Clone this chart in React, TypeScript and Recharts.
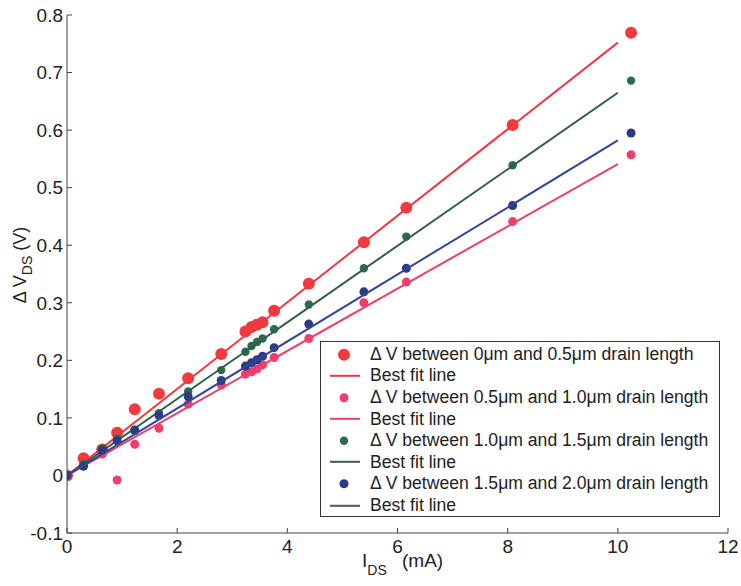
import { ScatterChart, Scatter, XAxis, YAxis } from 'recharts';

// drain current (mA) at each measurement
const IDS = [0, 0.3, 0.64, 0.91, 1.23, 1.67, 2.2, 2.8, 3.24, 3.35, 3.45, 3.55, 3.76, 4.39, 5.39, 6.16, 8.09, 10.24];

// ΔV (V) per drain-length segment
const DV_0_05 = [0, 0.03, 0.045, 0.074, 0.115, 0.142, 0.169, 0.211, 0.25, 0.258, 0.262, 0.266, 0.286, 0.333, 0.405, 0.465, 0.609, 0.769];
const DV_05_10 = [0, 0.018, 0.037, -0.008, 0.054, 0.082, 0.124, 0.157, 0.176, 0.18, 0.185, 0.192, 0.205, 0.238, 0.3, 0.336, 0.441, 0.557];
const DV_10_15 = [0, 0.02, 0.047, 0.064, 0.08, 0.108, 0.146, 0.183, 0.215, 0.225, 0.232, 0.238, 0.254, 0.297, 0.36, 0.415, 0.539, 0.686];
const DV_15_20 = [0, 0.016, 0.044, 0.06, 0.078, 0.104, 0.137, 0.165, 0.19, 0.196, 0.201, 0.207, 0.222, 0.263, 0.319, 0.36, 0.469, 0.595];

// best fit line end points
const FIT_X = [0, 10];
const FIT_0_05 = [0, 0.752];
const FIT_05_10 = [0, 0.541];
const FIT_10_15 = [0, 0.665];
const FIT_15_20 = [0, 0.582];

const X_TICKS = [0, 2, 4, 6, 8, 10, 12];
const Y_TICKS = [-0.1, 0, 0.1, 0.2, 0.3, 0.4, 0.5, 0.6, 0.7, 0.8];

const SERIES = [
  { name: 'Δ V between 0μm and 0.5μm drain length', dv: DV_0_05, fit: FIT_0_05, dot: '#ef3b3b', line: '#ef3845', legendLine: '#ef3845', r: 6 },
  { name: 'Δ V between 0.5μm and 1.0μm drain length', dv: DV_05_10, fit: FIT_05_10, dot: '#ec3f6c', line: '#ec3f6c', legendLine: '#ec3f6c', r: 4.5 },
  { name: 'Δ V between 1.0μm and 1.5μm drain length', dv: DV_10_15, fit: FIT_10_15, dot: '#2f6a4f', line: '#2f5f48', legendLine: '#3d5a4c', r: 4.2 },
  { name: 'Δ V between 1.5μm and 2.0μm drain length', dv: DV_15_20, fit: FIT_15_20, dot: '#2c3a80', line: '#33459a', legendLine: '#55555f', r: 4.5 },
];

const pts = (xs: number[], ys: number[]) => xs.map((x, i) => ({ x, y: ys[i] }));

const AXIS = '#444';
const FONT = '"Liberation Sans", Arial, sans-serif';

function XLabel() {
  // the "6" tick label sits in the gap between I_DS and (mA), as in the original
  return (
    <text y={567} fontSize={19} fill="#222" fontFamily={FONT}>
      <tspan x={362}>I</tspan>
      <tspan dy={8} fontSize={14}>DS</tspan>
      <tspan x={402} dy={-8}>(mA)</tspan>
    </text>
  );
}

function YLabel() {
  return (
    <text x={0} y={0} transform="translate(26,265) rotate(-90)" textAnchor="middle" fontSize={18} fill="#222" fontFamily={FONT}>
      Δ V<tspan dy={6} fontSize={14}>DS</tspan><tspan dy={-6}> (V)</tspan>
    </text>
  );
}

function LegendBox() {
  const rows: { kind: 'dot' | 'line'; s: (typeof SERIES)[number]; text: string }[] = [];
  SERIES.forEach((s) => {
    rows.push({ kind: 'dot', s, text: s.name });
    rows.push({ kind: 'line', s, text: 'Best fit line' });
  });
  return (
    <div style={{ position: 'absolute', left: 320, top: 341, width: 400, height: 176, border: '1px solid #333', background: '#fff', boxSizing: 'border-box', paddingTop: 1.5 }}>
      {rows.map((row, i) => (
        <div key={i} style={{ height: 21.6, display: 'flex', alignItems: 'center' }}>
          <svg width={49} height={21.6} style={{ flexShrink: 0 }}>
            {row.kind === 'dot'
              ? <circle cx={23} cy={10.8} r={row.s.r} fill={row.s.dot} />
              : <line x1={9} x2={39} y1={10.8} y2={10.8} stroke={row.s.legendLine} strokeWidth={2} />}
          </svg>
          <span style={{ fontSize: 17.6, color: '#222', fontFamily: FONT, whiteSpace: 'nowrap' }}>{row.text}</span>
        </div>
      ))}
    </div>
  );
}

export default function App() {
  return (
    <div style={{ position: 'absolute', left: 0, top: 0, width: 741, height: 586, background: '#fff', fontFamily: FONT }}>
      <ScatterChart width={741} height={586} margin={{ top: 15, right: 13, bottom: 0, left: 0 }}>
        <XAxis xAxisId="b" dataKey="x" type="number" domain={[0, 12]} ticks={X_TICKS} orientation="bottom" height={53}
          tickSize={-5} tickMargin={12} stroke={AXIS} tick={{ fill: '#222', fontSize: 19 }} allowDataOverflow label={<XLabel />} />
        <XAxis xAxisId="t" dataKey="x" type="number" domain={[0, 12]} ticks={X_TICKS} orientation="top" height={0}
          tickSize={-5} stroke={AXIS} tickFormatter={() => ''} allowDataOverflow />
        <YAxis yAxisId="l" dataKey="y" type="number" domain={[-0.1, 0.8]} ticks={Y_TICKS} width={67}
          tickSize={-5} tickMargin={9} stroke={AXIS} tick={{ fill: '#222', fontSize: 19 }} allowDataOverflow
          tickFormatter={(v: number) => String(v)} label={<YLabel />} />
        <YAxis yAxisId="r" dataKey="y" type="number" domain={[-0.1, 0.8]} ticks={Y_TICKS} width={0} orientation="right"
          tickSize={-5} stroke={AXIS} tickFormatter={() => ''} allowDataOverflow />
        {SERIES.flatMap((s, i) => [
          <Scatter key={`d${i}`} xAxisId="b" yAxisId="l" data={pts(IDS, s.dv)} isAnimationActive={false}
            shape={(p: any) => <circle cx={p.cx} cy={p.cy} r={s.r} fill={s.dot} />} />,
          <Scatter key={`f${i}`} xAxisId="b" yAxisId="l" data={pts(FIT_X, s.fit)} isAnimationActive={false}
            line={{ stroke: s.line, strokeWidth: 2 }} shape={() => <g />} />,
        ])}
      </ScatterChart>
      <LegendBox />
    </div>
  );
}
